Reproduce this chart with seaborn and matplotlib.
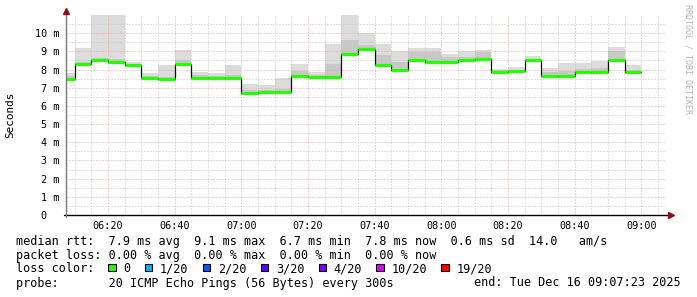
import numpy as np
import pandas as pd
import matplotlib
matplotlib.use("Agg")
import matplotlib.pyplot as plt
import seaborn as sns
from matplotlib.patches import Rectangle

# ---------------- data ----------------
# 5-minute buckets, each value belongs to the interval ending at the bucket end time
bucket_ends = pd.date_range("2025-12-16 06:10", "2025-12-16 09:00", freq="5min")
view_start = pd.Timestamp("2025-12-16 06:07:23")
view_end = pd.Timestamp("2025-12-16 09:07:23")

median_ms = [7.49, 8.28, 8.50, 8.39, 8.24, 7.51, 7.47, 8.33, 7.56, 7.53, 7.53,
             6.70, 6.78, 6.74, 7.64, 7.58, 7.58, 8.86, 9.14, 8.24, 7.97, 8.50,
             8.42, 8.42, 8.52, 8.59, 7.88, 7.91, 8.53, 7.65, 7.65, 7.86, 7.86,
             8.52, 7.86]
low_ms = [7.44, 8.22, 8.45, 8.33, 8.18, 7.45, 7.42, 8.27, 7.50, 7.47, 7.46,
          6.64, 6.72, 6.68, 7.58, 7.52, 7.52, 8.80, 9.08, 8.17, 7.91, 8.44,
          8.36, 8.36, 8.46, 8.53, 7.82, 7.85, 8.47, 7.59, 7.59, 7.80, 7.80,
          8.46, 7.80]
inner_ms = [7.62, 8.42, 8.64, 8.57, 8.32, 7.65, 7.60, 8.50, 7.68, 7.64, 7.70,
            6.90, 6.90, 6.95, 7.90, 7.70, 8.33, 9.62, 9.34, 8.79, 8.42, 8.97,
            8.97, 8.70, 8.70, 8.95, 7.95, 8.00, 8.60, 7.85, 7.90, 8.05, 8.10,
            9.00, 8.00]
high_ms = [7.79, 9.16, 11.0, 11.0, 8.39, 7.79, 8.24, 9.10, 7.88, 7.80, 8.24,
           7.23, 7.14, 7.56, 8.30, 7.86, 9.40, 11.0, 10.02, 9.40, 9.01, 9.21,
           9.21, 8.88, 9.03, 9.07, 8.02, 8.15, 8.74, 8.06, 8.37, 8.37, 8.48,
           9.23, 8.24]

x_tick_labels = ["06:20", "06:40", "07:00", "07:20", "07:40", "08:00",
                 "08:20", "08:40", "09:00"]
y_tick_values = [0, 1, 2, 3, 4, 5, 6, 7, 8, 9, 10]
y_tick_labels = ["0  ", "1 m", "2 m", "3 m", "4 m", "5 m", "6 m", "7 m",
                 "8 m", "9 m", "10 m"]

loss_labels = ["0", "1/20", "2/20", "3/20", "4/20", "10/20", "19/20"]
loss_colors = ["#26ff00", "#00b8ff", "#0059ff", "#5e00ff", "#7e00ff",
               "#dd00ff", "#ff0000"]

line_rtt = "median rtt:  7.9 ms avg  9.1 ms max  6.7 ms min  7.8 ms now  0.6 ms sd  14.0   am/s"
line_loss = "packet loss: 0.00 % avg  0.00 % max  0.00 % min  0.00 % now"
line_probe = "probe:       20 ICMP Echo Pings (56 Bytes) every 300s"
line_end = "end: Tue Dec 16 09:07:23 2025"

# ---------------- helpers ----------------
def to_min(ts):
    return ts.hour * 60 + ts.minute + ts.second / 60.0

ends = np.array([to_min(t) for t in bucket_ends])
edges = np.concatenate([[ends[0] - 5], ends])
x0, x1 = to_min(view_start), to_min(view_end)

# ---------------- figure ----------------
sns.set_theme(style="white")
plt.rcParams["font.family"] = ["DejaVu Sans Mono", "DejaVu Sans"]

W, H = 697, 297
fig = plt.figure(figsize=(W / 100, H / 100), dpi=100)
fig.patch.set_facecolor("white")
ax = fig.add_axes([66 / W, (H - 215) / H, 600 / W, 200 / H])
ax.set_facecolor("white")

# smoke
ax.stairs(high_ms, edges, baseline=low_ms, fill=True, color="#dcdcdc",
          lw=0, zorder=1)
ax.stairs(inner_ms, edges, baseline=low_ms, fill=True, color="#c8c8c8",
          lw=0, zorder=1.1)

# median step line (black connectors)
df = pd.DataFrame({"t": list(edges), "rtt": list(median_ms) + [median_ms[-1]]})
sns.lineplot(data=df, x="t", y="rtt", drawstyle="steps-post", color="#101010",
             lw=0.9, estimator=None, ax=ax, zorder=3)
# loss-coloured median segments (all 0 loss)
ax.hlines(median_ms, edges[:-1], edges[1:], color=loss_colors[0], lw=2.3,
          zorder=4)

ax.set_xlim(x0, x1)
ax.set_ylim(0, 11)

# grid
major_x = [to_min(pd.Timestamp("2025-12-16 " + s)) for s in x_tick_labels]
ax.set_xticks(major_x)
ax.set_xticklabels(x_tick_labels)
ax.set_xticks(np.arange(370, 546, 5), minor=True)
ax.set_yticks(y_tick_values)
ax.set_yticklabels(y_tick_labels)
ax.set_yticks(np.arange(0.5, 11, 0.5), minor=True)
ax.set_axisbelow(False)
ax.grid(which="minor", color="#c4c4c4", lw=0.72, linestyle=(0, (1, 2)),
        zorder=2.5)
ax.grid(which="major", color="#eea0a0", lw=0.72, linestyle=(0, (1, 2)),
        zorder=2.6)
ax.tick_params(which="both", length=0)
ax.tick_params(axis="x", pad=4, labelsize=7.3, colors="#000000")
ax.tick_params(axis="y", pad=5, labelsize=7.3, colors="#000000")
for lab in ax.get_yticklabels():
    lab.set_family("DejaVu Sans Mono")
for lab in ax.get_xticklabels():
    lab.set_family("DejaVu Sans Mono")

for s in ax.spines.values():
    s.set_visible(False)
ax.set_xlabel("")
ax.set_ylabel("")

# axes lines with arrows
ax.plot([-0.003, 1.007], [0, 0], transform=ax.transAxes, color="black",
        lw=1.0, clip_on=False, zorder=6)
ax.plot([0, 0], [-0.01, 1.02], transform=ax.transAxes, color="#7a7a7a",
        lw=1.0, clip_on=False, zorder=6)
ax.plot([1.008], [0], transform=ax.transAxes, marker=">", ms=4.5,
        color="#8f1010", mec="#8f1010", clip_on=False, zorder=7)
ax.plot([0], [1.022], transform=ax.transAxes, marker="^", ms=4.5,
        color="#8f1010", mec="#8f1010", clip_on=False, zorder=7)

# y axis title and watermark
fig.text(10 / W, 1 - 114.5 / H, "Seconds", rotation=90, ha="center",
         va="center", fontsize=7.9, color="#000000")
fig.text(688 / W, 1 - 4 / H, "RRDTOOL / TOBI OETIKER", rotation=270,
         ha="center", va="top", fontsize=6.0, color="#b4b4b4")

# legend texts
fs = 8.45
cw = fs / 72 * 100 * 0.602  # char advance in px
def ftxt(x, y, s, **kw):
    fig.text(x / W, 1 - y / H, s, fontsize=fs, va="baseline", color="black",
             **kw)

ftxt(16, 244.5, line_rtt)
ftxt(16, 258.5, line_loss)
ftxt(16, 272.5, "loss color:")
ftxt(16, 286.5, line_probe)
ftxt(680.5, 286.5, line_end, ha="right")

bx = 108.3
for lab, col in zip(loss_labels, loss_colors):
    fig.patches.append(Rectangle((bx / W, 1 - 271 / H), 7.3 / W, 7.3 / H,
                                 transform=fig.transFigure, facecolor=col,
                                 edgecolor="black", lw=0.8))
    ftxt(bx + 15, 272.5, lab)
    bx = bx + 15 + len(lab) * cw + 14.6

fig.savefig("out.png", dpi=100, facecolor="white")
